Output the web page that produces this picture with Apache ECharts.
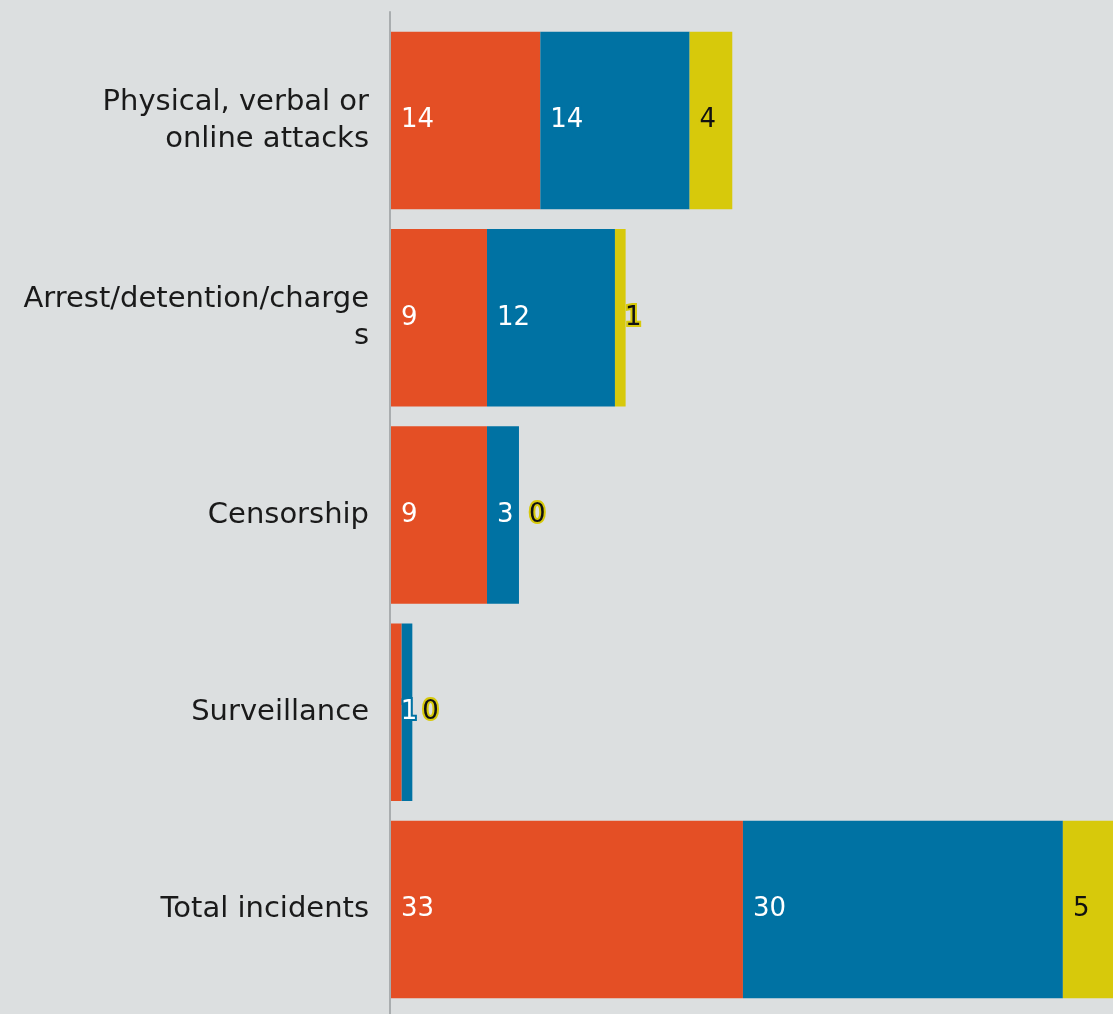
<!DOCTYPE html>
<html>
<head>
<meta charset="utf-8">
<script src="https://cdn.jsdelivr.net/npm/echarts@6/dist/echarts.min.js"></script>
<style>
  html, body { margin: 0; padding: 0; background: #dcdfe0; }
  #chart { width: 1113px; height: 1014px; }
</style>
</head>
<body>
<div id="chart"></div>
<script>
// categories, top to bottom
var categories = [
  "Physical, verbal or online attacks",
  "Arrest/detention/charges",
  "Censorship",
  "Surveillance",
  "Total incidents"
];
// three stacked series (colour groups)
var seriesA = [14, 9, 9, 1, 33];   // orange
var seriesB = [14, 12, 3, 1, 30];  // blue
var seriesC = [4, 1, 0, 0, 5];     // yellow

// how the category labels wrap in the original
var labelLines = {
  "Physical, verbal or online attacks": "Physical, verbal or\nonline attacks",
  "Arrest/detention/charges": "Arrest/detention/charge\ns"
};

var ORANGE = "#e44f25", BLUE = "#0072a3", YELLOW = "#d7c90b";
var FONT = "DejaVu Sans";

var mychart = echarts.init(document.getElementById("chart"));

// hide: label indices not shown, shift: label indices nudged left
function makeSeries(name, values, color, textColor, hide, shift) {
  var data = values.map(function (v, i) {
    var item = { value: v };
    if (hide && hide.indexOf(i) >= 0) item.label = { show: false };
    if (shift && shift.indexOf(i) >= 0) item.label = { offset: [-11, 0] };
    return item;
  });
  return {
    name: name,
    type: "bar",
    stack: "total",
    xAxisIndex: 0,
    yAxisIndex: 0,
    barCategoryGap: "10%",
    itemStyle: { color: color },
    label: {
      show: true,
      position: "insideLeft",
      distance: 10,
      color: textColor,
      fontFamily: FONT,
      fontSize: 26,
      textBorderColor: color,
      textBorderWidth: 4
    },
    data: data
  };
}

var option = {
  backgroundColor: "#dcdfe0",
  animation: false,
  grid: [
    { left: 391, right: 0, top: 22, bottom: 6 },
    { left: 390, right: 0, top: 12, bottom: 0 }
  ],
  xAxis: [
    { type: "value", gridIndex: 0, min: 0, max: 67.7, show: false },
    { type: "value", gridIndex: 1, min: 0, max: 1, show: false }
  ],
  yAxis: [
    {
      type: "category",
      gridIndex: 0,
      inverse: true,
      data: categories,
      axisLine: { show: false },
      axisTick: { show: false },
      axisLabel: {
        margin: 22,
        color: "#1a1a1a",
        fontFamily: FONT,
        fontSize: 29,
        lineHeight: 37,
        align: "right",
        formatter: function (v) { return labelLines[v] || v; }
      }
    },
    {
      type: "category",
      gridIndex: 1,
      data: [""],
      axisLine: { show: true, lineStyle: { color: "#a9adaf", width: 2 } },
      axisTick: { show: false },
      axisLabel: { show: false }
    }
  ],
  series: [
    makeSeries("A", seriesA, ORANGE, "#ffffff", [3]),
    makeSeries("B", seriesB, BLUE, "#ffffff", null, [3]),
    makeSeries("C", seriesC, YELLOW, "#111111")
  ]
};

mychart.setOption(option);
</script>
</body>
</html>
